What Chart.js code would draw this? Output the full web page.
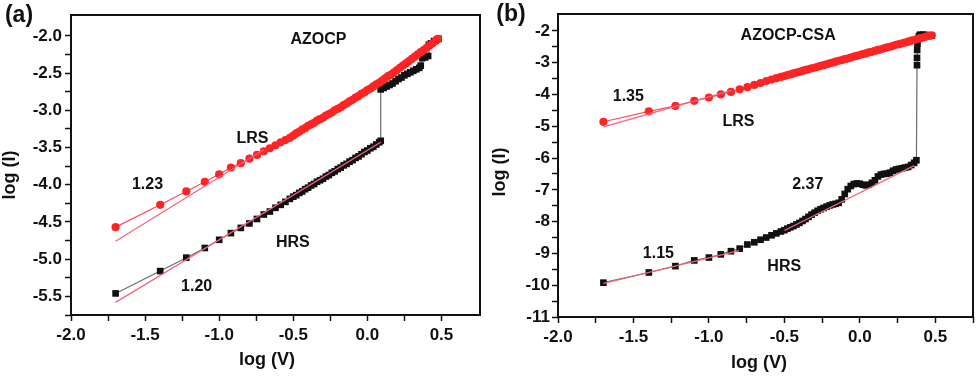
<!DOCTYPE html>
<html>
<head>
<meta charset="utf-8">
<title>log(I) vs log(V) - AZOCP / AZOCP-CSA</title>
<script src="https://cdn.jsdelivr.net/npm/chart.js@4.4.1/dist/chart.umd.min.js"></script>
<style>
    html, body { margin: 0; padding: 0; background: #ffffff; }
    .figure { position: relative; width: 979px; height: 377px; overflow: hidden; }
    .panel { position: absolute; top: 0; height: 377px; }
    #panelA { left: 0; width: 489px; }
    #panelB { left: 489px; width: 490px; }
</style>
</head>
<body>
<div class="figure">
    <div class="panel" id="panelA"><canvas id="chartA"></canvas></div>
    <div class="panel" id="panelB"><canvas id="chartB"></canvas></div>
</div>
<script>
// voltage sweep used for the LRS curves (log V)
const sweepLogV = [
    -1.699, -1.398, -1.222, -1.097, -1.0, -0.921, -0.854, -0.796, -0.745, -0.699,
    -0.658, -0.62, -0.585, -0.553, -0.523,
    -0.50, -0.48, -0.46, -0.44, -0.42, -0.40, -0.38, -0.36, -0.34, -0.32,
    -0.30, -0.28, -0.26, -0.24, -0.22, -0.20, -0.18, -0.16, -0.14, -0.12,
    -0.10, -0.08, -0.06, -0.04, -0.02, 0.00, 0.02, 0.04, 0.06, 0.08,
    0.10, 0.12, 0.14, 0.16, 0.18, 0.20, 0.22, 0.24, 0.26, 0.28,
    0.30, 0.32, 0.34, 0.36, 0.38, 0.40, 0.42, 0.44, 0.46, 0.477
];

// (a) AZOCP
const aLrsLogI = [
    -4.57, -4.27, -4.09, -3.96, -3.86, -3.77, -3.71, -3.65, -3.60, -3.55,
    -3.51, -3.47, -3.43, -3.40, -3.37,
    -3.34, -3.31, -3.29, -3.26, -3.24, -3.21, -3.19, -3.17, -3.14, -3.12,
    -3.10, -3.07, -3.05, -3.03, -3.00, -2.98, -2.96, -2.93, -2.91, -2.88,
    -2.86, -2.83, -2.81, -2.78, -2.76, -2.73, -2.71, -2.68, -2.65, -2.63,
    -2.60, -2.57, -2.54, -2.52, -2.49, -2.46, -2.43, -2.40, -2.37, -2.34,
    -2.31, -2.28, -2.25, -2.22, -2.19, -2.16, -2.13, -2.10, -2.07, -2.04
];

const aHrsLogV = [
    -1.699, -1.398, -1.222, -1.097, -1.0, -0.921, -0.854, -0.796, -0.745, -0.699,
    -0.658, -0.62, -0.585, -0.553, -0.523,
    -0.50, -0.48, -0.46, -0.44, -0.42, -0.40, -0.38, -0.36, -0.34, -0.32,
    -0.30, -0.28, -0.26, -0.24, -0.22, -0.20, -0.18, -0.16, -0.14, -0.12,
    -0.10, -0.08, -0.06, -0.04, -0.02, 0.00, 0.02, 0.04, 0.06, 0.08,
    0.09,
    0.09, 0.11, 0.13, 0.15, 0.17, 0.19, 0.21, 0.23, 0.25, 0.27,
    0.29, 0.31, 0.33, 0.35, 0.36, 0.37, 0.39, 0.41, 0.415, 0.43,
    0.45, 0.47, 0.48
];
const aHrsLogI = [
    -5.46, -5.16, -4.98, -4.85, -4.74, -4.65, -4.58, -4.52, -4.46, -4.40,
    -4.36, -4.31, -4.27, -4.23, -4.19,
    -4.16, -4.14, -4.11, -4.09, -4.06, -4.04, -4.01, -3.99, -3.96, -3.94,
    -3.92, -3.89, -3.87, -3.84, -3.82, -3.79, -3.77, -3.74, -3.72, -3.69,
    -3.67, -3.64, -3.62, -3.59, -3.56, -3.54, -3.51, -3.49, -3.46, -3.43,
    -3.41,
    -2.72, -2.70, -2.68, -2.66, -2.64, -2.61, -2.58, -2.56, -2.53, -2.51,
    -2.49, -2.47, -2.45, -2.43, -2.40, -2.30, -2.29, -2.27, -2.12, -2.10,
    -2.07, -2.05, -2.04
];

// linear fits (slope 1.23 and 1.20)
const aLrsFitLogV = [-1.699, -0.70];
const aLrsFitLogI = [-4.76, -3.53];
const aHrsFitLogV = [-1.699, 0.09];
const aHrsFitLogI = [-5.58, -3.43];

// (b) AZOCP-CSA
const bLrsLogI = [
    -4.86, -4.53, -4.36, -4.20, -4.10, -4.00, -3.92, -3.84, -3.77, -3.70,
    -3.64, -3.58, -3.53, -3.49, -3.45,
    -3.42, -3.39, -3.37, -3.34, -3.31, -3.29, -3.26, -3.23, -3.21, -3.18,
    -3.16, -3.13, -3.10, -3.08, -3.05, -3.02, -3.00, -2.97, -2.94, -2.92,
    -2.89, -2.87, -2.84, -2.81, -2.79, -2.76, -2.73, -2.71, -2.68, -2.66,
    -2.63, -2.60, -2.58, -2.55, -2.52, -2.50, -2.47, -2.44, -2.42, -2.39,
    -2.37, -2.34, -2.31, -2.29, -2.26, -2.23, -2.21, -2.18, -2.16, -2.14
];

const bHrsLogV = [
    -1.699, -1.398, -1.222, -1.097, -1.0, -0.921, -0.854, -0.796, -0.745, -0.699,
    -0.658, -0.62, -0.585, -0.553, -0.523,
    -0.50, -0.48, -0.46, -0.44, -0.42, -0.40, -0.38, -0.36, -0.34, -0.32,
    -0.30, -0.28, -0.26, -0.24, -0.22, -0.20, -0.18, -0.16, -0.14, -0.12,
    -0.10, -0.08, -0.06, -0.04, -0.02, 0.00, 0.02, 0.04, 0.06, 0.08,
    0.10, 0.12, 0.14, 0.16, 0.18, 0.20, 0.22, 0.24, 0.26, 0.28,
    0.30, 0.32, 0.34, 0.36,
    0.375, 0.379, 0.379, 0.380, 0.382, 0.386, 0.392, 0.40, 0.42, 0.44,
    0.46, 0.477
];
const bHrsLogI = [
    -9.92, -9.60, -9.40, -9.22, -9.13, -9.03, -8.93, -8.85, -8.72, -8.65,
    -8.57, -8.50, -8.43, -8.37, -8.31,
    -8.27, -8.22, -8.18, -8.14, -8.09, -8.04, -7.98, -7.92, -7.85, -7.78,
    -7.72, -7.66, -7.61, -7.57, -7.53, -7.49, -7.46, -7.44, -7.41, -7.30,
    -7.13, -6.98, -6.88, -6.82, -6.80, -6.81, -6.84, -6.86, -6.84, -6.78,
    -6.70, -6.58, -6.52, -6.50, -6.49, -6.46, -6.40, -6.36, -6.34, -6.32,
    -6.30, -6.28, -6.22, -6.15,
    -6.07, -3.08, -2.85, -2.60, -2.40, -2.25, -2.16, -2.12, -2.12, -2.13,
    -2.14, -2.15
];

// linear fits (slope 1.35, 1.15 and 2.37)
const bLrsFitLogV = [-1.699, -0.85];
const bLrsFitLogI = [-5.02, -3.87];
const bHrsFit1LogV = [-1.699, -0.80];
const bHrsFit1LogI = [-9.94, -8.91];
const bHrsFit2LogV = [-0.50, 0.36];
const bHrsFit2LogI = [-8.28, -6.24];

// tick labels
const xTicks = [-2.0, -1.5, -1.0, -0.5, 0.0, 0.5];
const xTickLabels = ["-2.0", "-1.5", "-1.0", "-0.5", "0.0", "0.5"];
const aYTicks = [-5.5, -5.0, -4.5, -4.0, -3.5, -3.0, -2.5, -2.0];
const aYTickLabels = ["-5.5", "-5.0", "-4.5", "-4.0", "-3.5", "-3.0", "-2.5", "-2.0"];
const bYTicks = [-11, -10, -9, -8, -7, -6, -5, -4, -3, -2];
const bYTickLabels = ["-11", "-10", "-9", "-8", "-7", "-6", "-5", "-4", "-3", "-2"];

const fontFamily = "'Liberation Sans', Arial, sans-serif";
const inkColor = "#111111";
const lrsColor = "#ff2424";
const fitColor = "#f5657f";

function toPoints(xs, ys) {
    return xs.map((x, i) => ({ x: x, y: ys[i] }));
}

function isOnStep(value, step) {
    const r = value / step;
    return Math.abs(r - Math.round(r)) < 1e-6;
}

function lrsDataset(xs, ys) {
    return {
        label: "LRS",
        data: toPoints(xs, ys),
        showLine: true,
        borderColor: "#ff4d5e",
        borderWidth: 1.2,
        pointStyle: "circle",
        pointRadius: 4.1,
        pointBackgroundColor: lrsColor,
        pointBorderWidth: 0
    };
}

function hrsDataset(xs, ys) {
    return {
        label: "HRS",
        data: toPoints(xs, ys),
        showLine: true,
        borderColor: "#6b6b6b",
        borderWidth: 1.2,
        pointStyle: "rect",
        pointRadius: 4.7,
        pointBackgroundColor: inkColor,
        pointBorderWidth: 0
    };
}

function fitDataset(xs, ys) {
    return {
        label: "fit",
        data: toPoints(xs, ys),
        showLine: true,
        borderColor: fitColor,
        borderWidth: 1.3,
        pointRadius: 0
    };
}

function axisOptions(range, minorStep, majors, labels, boxSize, tickPad) {
    return {
        type: "linear",
        min: range[0],
        max: range[1],
        afterBuildTicks: (scale) => {
            scale.ticks = scale.ticks.filter(t => isOnStep(t.value, minorStep));
        },
        afterFit: (scale) => {
            if (scale.isHorizontal()) {
                scale.height = boxSize;
            } else {
                scale.width = boxSize;
            }
        },
        ticks: {
            stepSize: minorStep,
            autoSkip: false,
            maxRotation: 0,
            padding: tickPad,
            color: inkColor,
            font: { family: fontFamily, size: 17, weight: "bold" },
            callback: function(value) {
                const i = majors.findIndex(m => Math.abs(m - value) < 1e-6);
                return i >= 0 ? labels[i] : "";
            }
        },
        grid: {
            drawOnChartArea: false,
            drawTicks: true,
            tickLength: 6,
            tickColor: inkColor,
            tickWidth: 1.5
        },
        border: { display: false }
    };
}

// frame, panel letter, axis titles and curve notes
const panelTextPlugin = {
    id: "panelText",
    afterDraw(chart, args, opts) {
        const { ctx, chartArea, scales } = chart;
        ctx.save();
        ctx.strokeStyle = inkColor;
        ctx.lineWidth = 2;
        ctx.strokeRect(chartArea.left, chartArea.top, chartArea.width, chartArea.height);

        ctx.fillStyle = inkColor;
        ctx.textAlign = "center";
        ctx.textBaseline = "middle";

        ctx.font = "bold 16px " + fontFamily;
        opts.notes.forEach(n => {
            ctx.fillText(n.text, scales.x.getPixelForValue(n.x), scales.y.getPixelForValue(n.y));
        });

        ctx.font = "bold 23px " + fontFamily;
        ctx.fillText(opts.letter, opts.letterPos[0], opts.letterPos[1]);

        ctx.font = "bold 18px " + fontFamily;
        ctx.fillText("log (V)", opts.xTitlePos[0], opts.xTitlePos[1]);

        ctx.translate(opts.yTitlePos[0], opts.yTitlePos[1]);
        ctx.rotate(-Math.PI / 2);
        ctx.fillText("log (I)", 0, 0);
        ctx.restore();
    }
};

function renderPanel(canvasId, panel) {
    const canvas = document.getElementById(canvasId);
    if (!canvas) return null;

    return new Chart(canvas, {
        type: "scatter",
        data: {
            datasets: panel.fits.concat([panel.lrs, panel.hrs])
        },
        options: {
            responsive: true,
            maintainAspectRatio: false,
            animation: false,
            events: [],
            layout: {
                padding: { top: panel.padTop, right: panel.padRight, left: 0, bottom: 0 }
            },
            plugins: {
                legend: { display: false },
                tooltip: { enabled: false },
                panelText: panel.text
            },
            scales: {
                x: axisOptions([-2.0, panel.xMax], 0.25, xTicks, xTickLabels, panel.xBox, 4),
                y: axisOptions(panel.yRange, panel.yMinor, panel.yTicks, panel.yLabels, panel.yBox, panel.yPad)
            }
        },
        plugins: [panelTextPlugin]
    });
}

window.addEventListener("DOMContentLoaded", () => {
    renderPanel("chartA", {
        fits: [fitDataset(aLrsFitLogV, aLrsFitLogI), fitDataset(aHrsFitLogV, aHrsFitLogI)],
        lrs: lrsDataset(sweepLogV, aLrsLogI),
        hrs: hrsDataset(aHrsLogV, aHrsLogI),
        padTop: 15,
        padRight: 9,
        xMax: 0.76,
        xBox: 62,
        yRange: [-5.75, -1.72],
        yMinor: 0.25,
        yTicks: aYTicks,
        yLabels: aYTickLabels,
        yBox: 71,
        yPad: 3,
        text: {
            letter: "(a)",
            letterPos: [19, 16],
            xTitlePos: [267, 360],
            yTitlePos: [10, 175],
            notes: [
                { text: "AZOCP", x: -0.33, y: -2.05 },
                { text: "LRS", x: -0.775, y: -3.38 },
                { text: "1.23", x: -1.484, y: -4.0 },
                { text: "HRS", x: -0.503, y: -4.775 },
                { text: "1.20", x: -1.152, y: -5.365 }
            ]
        }
    });

    renderPanel("chartB", {
        fits: [
            fitDataset(bLrsFitLogV, bLrsFitLogI),
            fitDataset(bHrsFit1LogV, bHrsFit1LogI),
            fitDataset(bHrsFit2LogV, bHrsFit2LogI)
        ],
        lrs: lrsDataset(sweepLogV, bLrsLogI),
        hrs: hrsDataset(bHrsLogV, bHrsLogI),
        padTop: 14,
        padRight: 6,
        xMax: 0.75,
        xBox: 60,
        yRange: [-11, -1.47],
        yMinor: 0.5,
        yTicks: bYTicks,
        yLabels: bYTickLabels,
        yBox: 69,
        yPad: 2,
        text: {
            letter: "(b)",
            letterPos: [22, 15],
            xTitlePos: [270, 363],
            yTitlePos: [11, 172],
            notes: [
                { text: "AZOCP-CSA", x: -0.475, y: -2.135 },
                { text: "1.35", x: -1.534, y: -4.08 },
                { text: "LRS", x: -0.804, y: -4.86 },
                { text: "2.37", x: -0.345, y: -6.84 },
                { text: "1.15", x: -1.335, y: -9.0 },
                { text: "HRS", x: -0.501, y: -9.41 }
            ]
        }
    });
});
</script>
</body>
</html>
